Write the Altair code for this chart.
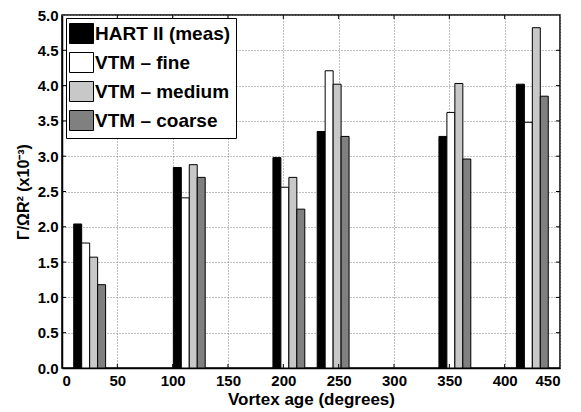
import altair as alt
import pandas as pd

# Vortex ages (group centres, degrees)
ages = [25, 115, 205, 245, 355, 425]
series = ["HART II (meas)", "VTM – fine", "VTM – medium", "VTM – coarse"]
hart = [2.04, 2.84, 2.98, 3.35, 3.28, 4.02]
fine = [1.77, 2.41, 2.56, 4.21, 3.62, 3.48]
medium = [1.57, 2.88, 2.70, 4.02, 4.03, 4.82]
coarse = [1.18, 2.70, 2.25, 3.28, 2.96, 3.85]
colors = ["#000000", "#ffffff", "#c8c8c8", "#808080"]
x_ticks = [0, 50, 100, 150, 200, 250, 300, 350, 400, 450]
y_ticks = [0.0, 0.5, 1.0, 1.5, 2.0, 2.5, 3.0, 3.5, 4.0, 4.5, 5.0]

bar_w = 7.2
W, H = 498, 353
FONT = "Liberation Sans"

rows = []
for vals, name, k in zip([hart, fine, medium, coarse], series, range(4)):
    for a, v in zip(ages, vals):
        x0 = a + (k - 2) * bar_w
        rows.append({"series": name, "x0": x0, "x1": x0 + bar_w, "value": v, "base": 0.0})
df = pd.DataFrame(rows)

xs = alt.Scale(domain=[0, 450], nice=False, zero=False)
ys = alt.Scale(domain=[0, 5], nice=False)
x_axis = alt.Axis(values=x_ticks, title="Vortex age (degrees)", format="d",
                  grid=True, ticks=False, labelPadding=5, titlePadding=3,
                  labelOverlap=False)
y_axis = alt.Axis(values=y_ticks, title="Γ/ΩR² (x10⁻³)", format=".1f",
                  grid=True, ticks=False, labelPadding=4, titlePadding=6,
                  labelOverlap=False)

bars = alt.Chart(df).mark_bar(stroke="black", strokeWidth=1).encode(
    x=alt.X("x0:Q", scale=xs, axis=x_axis),
    x2="x1:Q",
    y=alt.Y("value:Q", scale=ys, axis=y_axis),
    y2="base:Q",
    color=alt.Color("series:N",
                    scale=alt.Scale(domain=series, range=colors),
                    sort=series,
                    legend=alt.Legend(title=None, orient="none", legendX=4, legendY=3,
                                      symbolType="M-1.2,-1H1.2V1H-1.2Z", symbolSize=400,
                                      symbolStrokeColor="black", symbolStrokeWidth=1,
                                      symbolOpacity=1,
                                      labelFontSize=19, labelFont=FONT, labelFontWeight="bold",
                                      labelOffset=3, rowPadding=4, padding=5,
                                      strokeColor="black", fillColor="white", labelLimit=300)),
)

xt = pd.DataFrame({"t": x_ticks[1:-1]})
yt = pd.DataFrame({"t": y_ticks[1:-1]})
tick_style = dict(color="black", strokeWidth=1)
xb = alt.Chart(xt).mark_rule(**tick_style).encode(
    x=alt.X("t:Q", scale=xs, axis=x_axis), y=alt.value(H), y2=alt.value(H - 4))
xtp = alt.Chart(xt).mark_rule(**tick_style).encode(
    x=alt.X("t:Q", scale=xs, axis=x_axis), y=alt.value(0), y2=alt.value(4))
yl = alt.Chart(yt).mark_rule(**tick_style).encode(
    y=alt.Y("t:Q", scale=ys, axis=y_axis), x=alt.value(0), x2=alt.value(4))
yr = alt.Chart(yt).mark_rule(**tick_style).encode(
    y=alt.Y("t:Q", scale=ys, axis=y_axis), x=alt.value(W - 4), x2=alt.value(W))

chart = alt.layer(bars, xb, xtp, yl, yr).properties(
    width=W, height=H,
    autosize=alt.AutoSizeParams(type="none"),
    padding={"left": 54, "top": 7, "right": 13, "bottom": 44},
).configure_view(
    stroke="black", strokeWidth=1.5
).configure_axis(
    labelFont=FONT, titleFont=FONT, labelFontWeight="bold", titleFontWeight="bold",
    labelFontSize=15, titleFontSize=17, labelColor="black", titleColor="black",
    domainColor="black", domainWidth=1.5,
    gridColor="#808080", gridDash=[1, 2], gridWidth=1, gridOpacity=1,
).configure_axisY(titleFontSize=16)

chart.save("out.html", embed_options={"renderer": "svg", "actions": False})
